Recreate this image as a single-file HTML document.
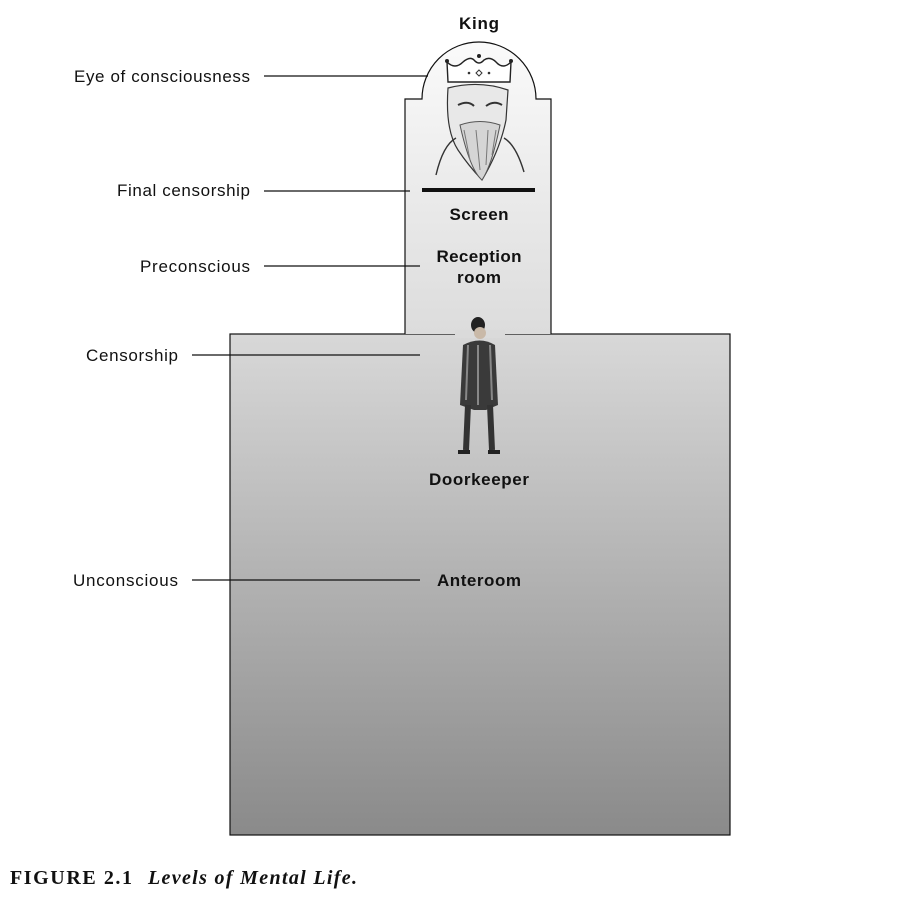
<!DOCTYPE html>
<html><head><style>
body{margin:0;background:#fff;}
svg{display:block;}
text{font-family:"Liberation Sans",sans-serif;font-size:17px;fill:#111;}
.b{font-weight:bold;}
</style></head><body>
<svg width="901" height="900" viewBox="0 0 901 900">
<defs>
<linearGradient id="gt" x1="0" y1="43" x2="0" y2="334" gradientUnits="userSpaceOnUse">
<stop offset="0" stop-color="#fafafa"/><stop offset="1" stop-color="#dcdcdc"/></linearGradient>
<linearGradient id="gb" x1="0" y1="334" x2="0" y2="835" gradientUnits="userSpaceOnUse">
<stop offset="0" stop-color="#d8d8d8"/><stop offset="1" stop-color="#8a8a8a"/></linearGradient>
</defs>
<rect x="230" y="334" width="500" height="501" fill="url(#gb)" stroke="#111" stroke-width="1.2"/>
<path d="M405 334 L405 99 L422 99 A57 57 0 0 1 536 99 L551 99 L551 334 Z" fill="url(#gt)"/>
<path d="M405 334 L405 99 L422 99 A57 57 0 0 1 536 99 L551 99 L551 334" fill="none" stroke="#111" stroke-width="1.2"/>
<rect x="455" y="330" width="50" height="8" fill="#dadada"/>
<!-- crown -->
<path d="M448 82 L447 62 Q455 70 463 62 Q470 56 474 60 Q479 66 484 60 Q490 56 496 62 Q503 70 511 62 L510 82 Z" fill="#fff" stroke="#222" stroke-width="1.4"/>
<circle cx="447" cy="61" r="2" fill="#222"/><circle cx="479" cy="56" r="2" fill="#222"/><circle cx="511" cy="61" r="2" fill="#222"/>
<circle cx="469" cy="73" r="1.3" fill="#333"/><circle cx="489" cy="73" r="1.3" fill="#333"/><path d="M479 70 L482 73 L479 76 L476 73 Z" fill="none" stroke="#333"/>
<!-- king face / beard -->
<path d="M448 88 Q479 80 508 90 L506 120 Q500 150 482 180 Q468 165 458 150 Q445 130 448 88 Z" fill="#e8e8e8" stroke="#333" stroke-width="1.2"/>
<path d="M458 105 Q468 100 474 106 M486 106 Q494 100 502 105" stroke="#333" stroke-width="2" fill="none"/>
<path d="M460 125 Q470 170 482 180 Q492 165 500 125 Q480 118 460 125Z" fill="#d5d5d5" stroke="#555" stroke-width="1"/>
<path d="M464 130 L470 160 M476 130 L480 170 M488 130 L486 165 M496 130 L492 155" stroke="#777" stroke-width="1"/>
<path d="M436 175 Q443 145 456 138 M524 172 Q516 145 504 138" fill="none" stroke="#333" stroke-width="1.4"/>
<rect x="422" y="188" width="113" height="4" fill="#111"/>
<!-- doorkeeper -->
<ellipse cx="478" cy="325" rx="7" ry="8" fill="#222"/>
<ellipse cx="480" cy="333" rx="6" ry="6" fill="#c9b9a8"/>
<path d="M463 345 Q480 336 495 345 L498 405 L486 410 L474 410 L460 405 Z" fill="#3a3a3a"/>
<path d="M468 345 L466 400 M478 345 L478 405 M490 345 L492 400" stroke="#888" stroke-width="2"/>
<path d="M468 405 L466 450 M490 405 L492 450" stroke="#333" stroke-width="6"/>
<path d="M458 452 L470 452 M488 452 L500 452" stroke="#222" stroke-width="4"/>
<!-- labels -->
<text x="479" y="29" class="b" text-anchor="middle" textLength="40">King</text>
<text x="479" y="220" class="b" text-anchor="middle" textLength="59">Screen</text>
<text x="479" y="262" class="b" text-anchor="middle" textLength="85">Reception</text>
<text x="479" y="283" class="b" text-anchor="middle" textLength="44">room</text>
<text x="479" y="485" class="b" text-anchor="middle" textLength="100">Doorkeeper</text>
<text x="479" y="586" class="b" text-anchor="middle" textLength="84">Anteroom</text>
<text x="74" y="82" textLength="176">Eye of consciousness</text>
<text x="117" y="196" textLength="133">Final censorship</text>
<text x="140" y="272" textLength="110">Preconscious</text>
<text x="86" y="361" textLength="92">Censorship</text>
<text x="73" y="586" textLength="105">Unconscious</text>
<g stroke="#111" stroke-width="1.2">
<line x1="264" y1="76" x2="428" y2="76"/>
<line x1="264" y1="191" x2="410" y2="191"/>
<line x1="264" y1="266" x2="420" y2="266"/>
<line x1="192" y1="355" x2="420" y2="355"/>
<line x1="192" y1="580" x2="420" y2="580"/>
</g>
<text x="10" y="884" textLength="122" style="font-family:'Liberation Serif',serif;font-size:20px;font-weight:bold">FIGURE 2.1</text>
<text x="148" y="884" textLength="209" style="font-family:'Liberation Serif',serif;font-size:20px;font-weight:bold;font-style:italic">Levels of Mental Life.</text>
</svg>
</body></html>
